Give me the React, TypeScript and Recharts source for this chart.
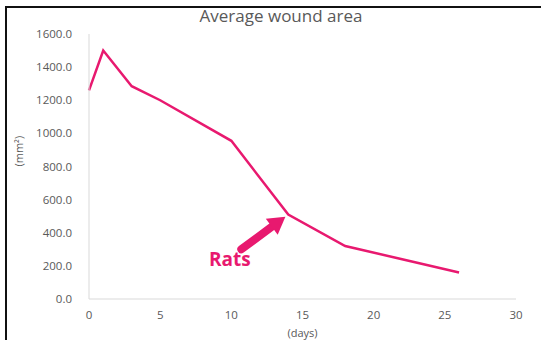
import React from "react";
import {
  LineChart,
  Line,
  XAxis,
  YAxis,
  Label,
  ReferenceLine,
  ReferenceDot,
} from "recharts";

const days = [0, 1, 3, 5, 10, 14, 18, 22, 26];
const woundArea = [1260, 1500, 1285, 1200, 955, 510, 320, 240, 160];
const xTicks = [0, 5, 10, 15, 20, 25, 30];
const yTicks = [0, 200, 400, 600, 800, 1000, 1200, 1400, 1600];

const PINK = "#e8196f";
const FONT = "'Open Sans', Lato, sans-serif";

const data = days.map((d, i) => ({ day: d, area: woundArea[i] }));

const ArrowShape = (props: any) => {
  const { x1, y1, x2, y2 } = props;
  if (x1 == null) return null;
  const ang = Math.atan2(y2 - y1, x2 - x1);
  const head = 17;
  const hw = 10;
  const bx = x2 - head * Math.cos(ang);
  const by = y2 - head * Math.sin(ang);
  const px = -Math.sin(ang) * hw;
  const py = Math.cos(ang) * hw;
  return (
    <g>
      <line
        x1={x1}
        y1={y1}
        x2={bx}
        y2={by}
        stroke={PINK}
        strokeWidth={8}
        strokeLinecap="round"
      />
      <polygon
        points={`${x2},${y2} ${bx + px},${by + py} ${bx - px},${by - py}`}
        fill={PINK}
      />
    </g>
  );
};

const App: React.FC = () => {
  return (
    <div
      style={{
        position: "absolute",
        left: 0,
        top: 0,
        width: 541,
        height: 340,
        overflow: "hidden",
        background: "#fff",
        fontFamily: FONT,
      }}
    >
      <div
        style={{
          position: "absolute",
          left: 5,
          top: 6,
          width: 600,
          height: 400,
          border: "2px solid #111",
        }}
      />
      <div
        style={{
          position: "absolute",
          left: 0,
          top: 4,
          width: 562,
          textAlign: "center",
          fontSize: 17,
          color: "#595959",
        }}
      >
        Average wound area
      </div>
      <div style={{ position: "absolute", left: 0, top: 0 }}>
        <LineChart
          width={541}
          height={340}
          data={data}
          margin={{ top: 34, right: 25, bottom: 0, left: 0 }}
        >
          <XAxis
            dataKey="day"
            type="number"
            domain={[0, 30]}
            ticks={xTicks}
            tickLine={false}
            tickSize={0}
            tickMargin={12}
            height={41}
            axisLine={{ stroke: "#d9d9d9" }}
            tick={{ fill: "#595959", fontSize: 11.5, fontFamily: FONT }}
          >
            <Label
              value="(days)"
              position="insideBottom"
              offset={3}
              fill="#595959"
              fontSize={11}
              fontFamily={FONT}
            />
          </XAxis>
          <YAxis
            type="number"
            domain={[0, 1600]}
            ticks={yTicks}
            tickFormatter={(v: number) => v.toFixed(1)}
            tickLine={false}
            tickSize={0}
            tickMargin={17}
            width={89}
            axisLine={{ stroke: "#d9d9d9" }}
            tick={{ fill: "#595959", fontSize: 11.5, fontFamily: FONT }}
          >
            <Label
              value="(mm²)"
              angle={-90}
              position="insideLeft"
              offset={19}
              fill="#595959"
              fontSize={11}
              fontFamily={FONT}
            />
          </YAxis>
          <Line
            type="linear"
            dataKey="area"
            stroke={PINK}
            strokeWidth={2.5}
            dot={false}
            isAnimationActive={false}
          />
          <ReferenceLine
            segment={[
              { x: 10.7, y: 300 },
              { x: 13.8, y: 497 },
            ]}
            ifOverflow="visible"
            shape={ArrowShape}
          />
          <ReferenceDot
            x={9.9}
            y={241}
            r={0}
            ifOverflow="visible"
            label={{
              value: "Rats",
              fill: PINK,
              fontSize: 19,
              fontWeight: 700,
              fontFamily: FONT,
              position: "center",
            }}
          />
        </LineChart>
      </div>
    </div>
  );
};

export default App;
